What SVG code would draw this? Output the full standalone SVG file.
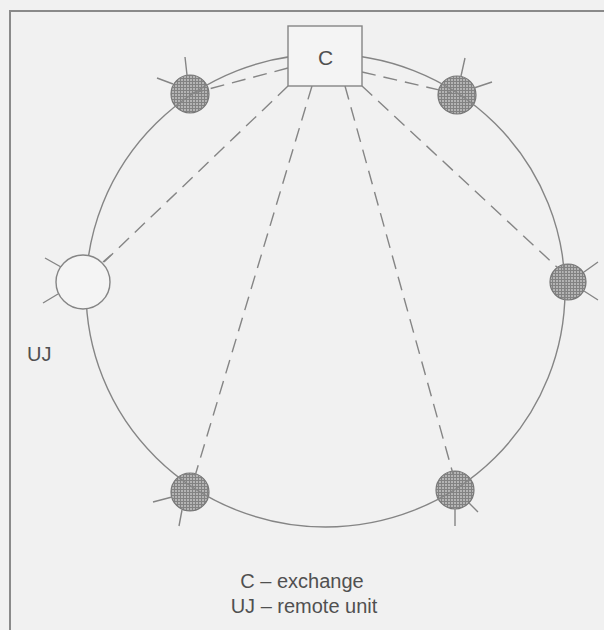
<svg xmlns="http://www.w3.org/2000/svg" width="604" height="630" viewBox="0 0 604 630">
  <defs>
    <pattern id="hatch" width="3" height="3" patternUnits="userSpaceOnUse">
      <rect width="3" height="3" fill="#b4b4b4"/>
      <path d="M0 0.5H3M0.5 0V3" stroke="#828282" stroke-width="1"/>
    </pattern>
  </defs>
  <style>
    .ln { stroke: #858585; stroke-width: 1.4; fill: none; }
    .dash { stroke: #858585; stroke-width: 1.4; fill: none; stroke-dasharray: 14 8; }
    .node { fill: url(#hatch); stroke: #777; stroke-width: 1.2; }
    .unit { fill: #f4f4f4; stroke: #858585; stroke-width: 1.4; }
    .lbl { font-family: "Liberation Sans", Arial, sans-serif; fill: #505050; }
  </style>
  <rect width="604" height="630" fill="#f1f1f1"/>
  <path d="M10 640V11H614" stroke="#8a8a8a" stroke-width="2" fill="none"/>

  <g id="nodes-hatched">
    <g id="n-top-left">
      <circle class="node" cx="190" cy="94" r="19"/>
      <path class="ln" d="M187 75L185 57M173 84L157 78"/>
    </g>
    <g id="n-top-right">
      <circle class="node" cx="457" cy="95" r="19"/>
      <path class="ln" d="M461 76L465 58M474 88L492 82"/>
    </g>
    <g id="n-right">
      <circle class="node" cx="568" cy="282" r="18"/>
      <path class="ln" d="M584 272L598 262M584 291L598 300"/>
    </g>
    <g id="n-bottom-left">
      <circle class="node" cx="190" cy="492" r="19"/>
      <path class="ln" d="M172 497L153 502M182 510L179 526"/>
    </g>
    <g id="n-bottom-right">
      <circle class="node" cx="455" cy="490" r="19"/>
      <path class="ln" d="M455 509L455 526M469 503L478 512"/>
    </g>
  </g>

  <g id="connectors">
    <ellipse class="ln" cx="325.5" cy="290.5" rx="239.5" ry="236.5"/>
    <path class="dash" d="M288 68L190 94"/>
    <path class="dash" d="M362 72L452 93"/>
    <path class="dash" d="M288 86L104 262"/>
    <path class="dash" d="M312 86L195 476"/>
    <path class="dash" d="M345 86L453 474"/>
    <path class="dash" d="M362 86L558 268"/>
  </g>

  <g id="UJ">
    <circle class="unit" cx="83" cy="282" r="27"/>
    <path class="ln" d="M61 267L45 258M58 294L43 303M103 262L111 255"/>
    <text class="lbl" x="27" y="361" font-size="20">UJ</text>
  </g>

  <g id="C">
    <rect x="288" y="26" width="74" height="60" fill="#f4f4f4" stroke="#858585" stroke-width="1.4"/>
    <text class="lbl" x="325.5" y="65" font-size="21" text-anchor="middle">C</text>
  </g>

  <g id="legend">
    <text class="lbl" x="302" y="588" font-size="20" text-anchor="middle">C – exchange</text>
    <text class="lbl" x="304" y="613" font-size="20" text-anchor="middle">UJ – remote unit</text>
  </g>
</svg>
